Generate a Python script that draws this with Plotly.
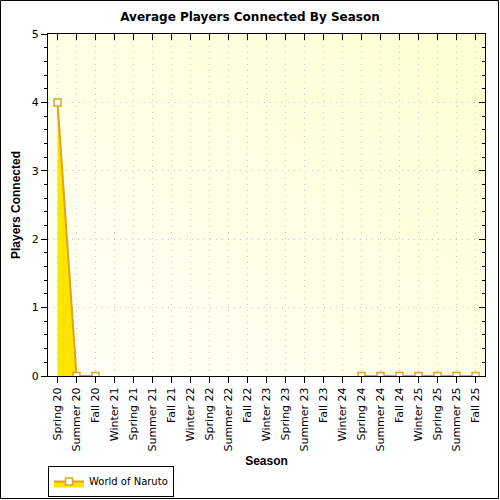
import base64
import plotly.graph_objects as go

seasons = ["Spring 20", "Summer 20", "Fall 20", "Winter 21", "Spring 21", "Summer 21",
           "Fall 21", "Winter 22", "Spring 22", "Summer 22", "Fall 22", "Winter 23",
           "Spring 23", "Summer 23", "Fall 23", "Winter 24", "Spring 24", "Summer 24",
           "Fall 24", "Winter 25", "Spring 25", "Summer 25", "Fall 25"]
# None = no data for that season
players = [4, 0, 0, None, None, None, None, None, None, None, None, None, None,
           None, None, None, 0, 0, 0, 0, 0, 0, 0]

W, H = 500, 500
L, R, T, B = 48, 15, 34, 124
pw, ph = W - L - R, H - T - B

fig = go.Figure()
fig.add_trace(go.Scatter(
    x=list(range(len(seasons))), y=players, name="World of Naruto",
    mode="lines+markers", fill="tozeroy", fillcolor="#FFE400",
    line=dict(color="#DAA520", width=2),
    marker=dict(symbol="square", size=7, color="white", line=dict(color="#DAA520", width=1.5)),
    connectgaps=False, cliponaxis=True,
))

font = "DejaVu Sans, Verdana, sans-serif"
bold = "Liberation Sans, Arial, sans-serif"
axis_common = dict(showline=True, linecolor="black", linewidth=1, zeroline=False,
                   ticks="outside", tickcolor="black", ticklen=6, automargin=False,
                   tickfont=dict(family=font, size=11, color="black"))
grid = dict(showgrid=True, gridcolor="#C8C8C8", griddash="1px,5px", gridwidth=1)

# diagonal background gradient for the plot area (white bottom-left -> pale yellow top-right)
bg_svg = ('<svg xmlns="http://www.w3.org/2000/svg" width="100" height="100" preserveAspectRatio="none">'
          '<defs><linearGradient id="g" x1="0" y1="1" x2="1" y2="0">'
          '<stop offset="0" stop-color="#FFFFF8"/><stop offset="1" stop-color="#FFFFD2"/>'
          '</linearGradient></defs><rect width="100" height="100" fill="url(#g)"/></svg>')
bg_src = "data:image/svg+xml;base64," + base64.b64encode(bg_svg.encode()).decode()

fig.update_layout(
    width=W, height=H, margin=dict(l=L, r=R, t=T, b=B, autoexpand=False),
    paper_bgcolor="white", plot_bgcolor="rgba(0,0,0,0)",
    images=[dict(source=bg_src, xref="paper", yref="paper", x=0, y=1, sizex=1, sizey=1,
                 xanchor="left", yanchor="top", sizing="stretch", layer="below")],
    title=dict(text="<b>Average Players Connected By Season</b>", x=0.5, xanchor="center",
               y=1 - 17 / H, yanchor="middle", font=dict(family=font, size=12, color="black")),
    showlegend=True,
    legend=dict(x=0, xanchor="left", y=-(466 - T - ph) / ph, yanchor="top",
                bordercolor="black", borderwidth=1, bgcolor="white",
                font=dict(family=font, size=10, color="black"),
                itemwidth=30, tracegroupgap=0),
    xaxis=dict(axis_common, **grid, range=[-0.5, len(seasons) - 0.5], tickmode="array",
               tickvals=list(range(len(seasons))), ticktext=seasons, tickangle=-90,
               title=dict(text="<b>Season</b>", font=dict(family=bold, size=12, color="black"),
                          standoff=6)),
    yaxis=dict(axis_common, **grid, range=[0, 5], dtick=1,
               minor=dict(dtick=0.2, ticks="outside", ticklen=3, tickcolor="black", showgrid=False),
               title=dict(text="<b>Players Connected</b>", font=dict(family=bold, size=12, color="black"),
                          standoff=8)),
    xaxis2=dict(overlaying="x", side="top", range=[-0.5, len(seasons) - 0.5], tickmode="array",
                tickvals=list(range(len(seasons))), showticklabels=False, ticks="inside",
                ticklen=6, tickcolor="black", showline=True, linecolor="black", showgrid=False,
                zeroline=False, automargin=False),
    yaxis2=dict(overlaying="y", side="right", range=[0, 5], dtick=1, showticklabels=False,
                ticks="inside", ticklen=6, tickcolor="black", showline=True, linecolor="black",
                showgrid=False, zeroline=False, automargin=False,
                minor=dict(dtick=0.2, ticks="inside", ticklen=3, tickcolor="black")),
)

# invisible point so the mirrored axes get drawn
fig.add_trace(go.Scatter(x=[0], y=[0], xaxis="x2", yaxis="y2", mode="markers",
                         marker=dict(opacity=0), showlegend=False, hoverinfo="skip"))

# outer frame around the whole image
fig.add_shape(type="rect", xref="paper", yref="paper",
              x0=(0.5 - L) / pw, x1=(W - 1.5 - L) / pw,
              y0=-(H - 1.5 - T - ph) / ph, y1=1 + (T - 0.5) / ph,
              line=dict(color="black", width=1), layer="above")

fig.write_html("out.html", config={"displayModeBar": False},
               post_script="document.body.style.margin='0px';")
